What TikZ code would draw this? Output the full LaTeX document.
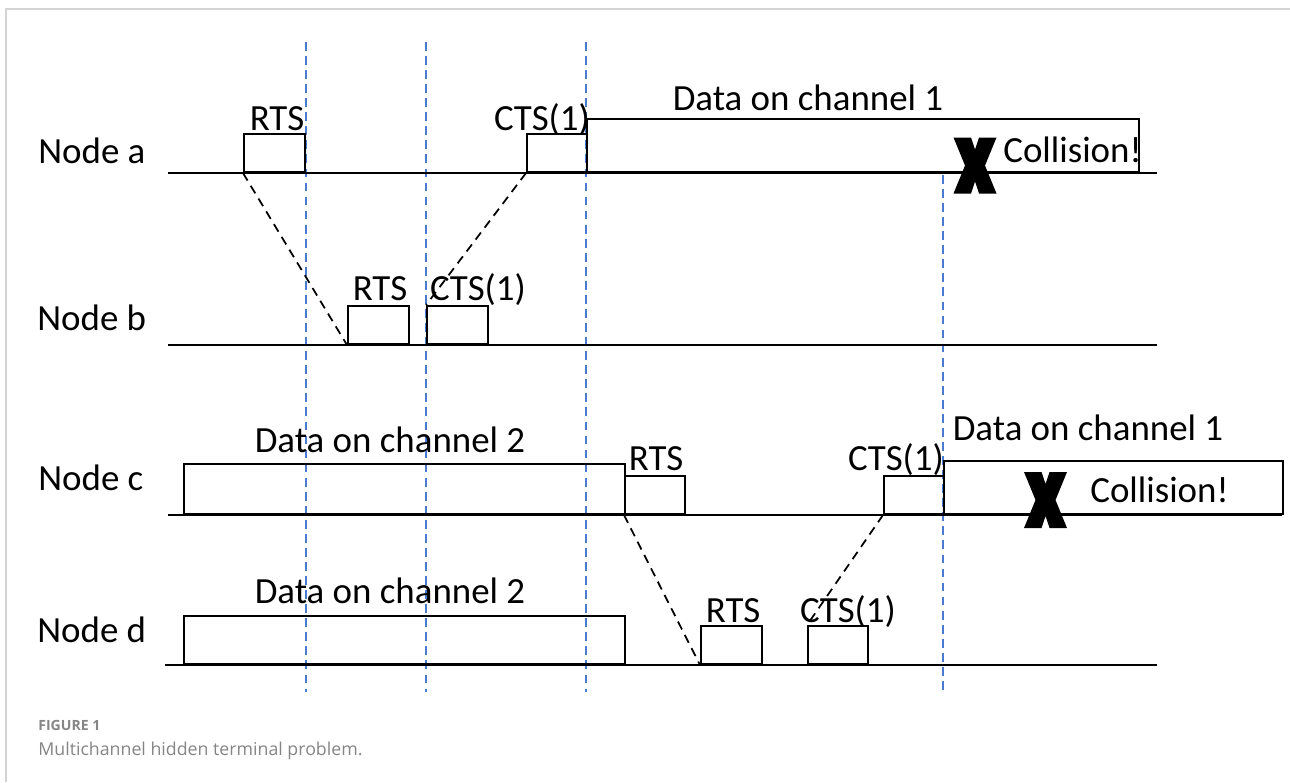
\documentclass[tikz,border=0pt]{standalone}
\usepackage{fontspec}
\setmainfont{Carlito}
\newfontfamily\capfont{Open Sans}
\usetikzlibrary{positioning}
\definecolor{slotblue}{HTML}{4A7BD0}
\definecolor{framegray}{HTML}{D4D4D4}
\definecolor{capgray}{HTML}{858585}
\tikzset{pkt/.style={draw, line width=1.1pt, anchor=south west, inner sep=0pt, minimum height=0.76cm, minimum width=1.22cm}}
\tikzset{lbl/.style={font=\fontsize{21}{25}\selectfont, inner sep=0pt, anchor=base}}
\tikzset{tl/.style={line width=1.1pt}}
\tikzset{prop/.style={line width=1pt, dash pattern=on 5pt off 3.5pt}}
\tikzset{slot/.style={slotblue, line width=0.8pt, dash pattern=on 5pt off 3pt}}
% heavy cross as a filled outline, in pixel units round the node centre
\tikzset{xmark/.style={inner sep=0pt, minimum width=0.86cm, minimum height=1.12cm,
    path picture={\fill[shift={(path picture bounding box.center)}]
        (-21.5,-28) -- (-4,-28) -- (0,-16) -- (4,-28) -- (21.5,-28) -- (10,0)
        -- (21.5,28) -- (4,28) -- (0,16) -- (-4,28) -- (-21.5,28) -- (-10,0) -- cycle;}}}
\tikzset{captext/.style={font=\capfont\fontsize{10.1}{12}\selectfont, text=capgray, inner sep=0pt, anchor=base west}}

\begin{document}
\begin{tikzpicture}[x=0.02cm, y=-0.02cm]
    \useasboundingbox (0,0) rectangle (1290,782);
    \draw[framegray, line width=0.8pt] (6,782) -- (6,9) -- (1290,9);

    % slot boundaries
    \foreach \x in {306,426,586}
        \draw[slot] (\x,42) -- (\x,692);
    \draw[slot] (943,175) -- (943,692);

    % time lines
    \draw[tl] (168,173) -- (1157,173);
    \draw[tl] (168,345) -- (1157,345);
    \draw[tl] (168,515) -- (1282,515);
    \draw[tl] (165,665) -- (1157,665);

    \node[lbl, anchor=base west] (na) at (38,163) {Node a};
    \node[lbl, anchor=base west] (nb) at (37,330) {Node b};
    \node[lbl, anchor=base west] (nc) at (38,490) {Node c};
    \node[lbl, anchor=base west] (nd) at (37,642) {Node d};

    % node a
    \node[pkt] (rtsa) at (243,173) {};
    \node[pkt, minimum width=1.2cm] (ctsa) at (526,173) {};
    \node[pkt, minimum width=11.04cm, minimum height=1.06cm] (dataa) at (586,173) {};
    \node[lbl] (trtsa) at (277,130) {RTS};
    \node[lbl] (tctsa) at (542,130) {CTS(1)};
    \node[lbl] (tdataa) at (808,110) {Data on channel 1};
    \node[xmark] (xa) at (975,165.5) {};
    \node[lbl, anchor=base west] (cola) at (1003,162) {Collision!};

    % node b
    \node[pkt] (rtsb) at (347,345) {};
    \node[pkt] (ctsb) at (426,345) {};
    \node[lbl] (trtsb) at (380,300) {RTS};
    \node[lbl] (tctsb) at (478,300) {CTS(1)};

    % node c
    \node[pkt, minimum width=8.82cm, minimum height=1cm] (datac) at (183,515) {};
    \node[pkt, minimum width=1.2cm] (rtsc) at (624,515) {};
    \node[pkt, minimum width=1.2cm] (ctsc) at (883,515) {};
    \node[pkt, minimum width=6.78cm, minimum height=1.06cm] (datac1) at (943,515) {};
    \node[lbl] (tdatac) at (390,452) {Data on channel 2};
    \node[lbl] (trtsc) at (656,470) {RTS};
    \node[lbl] (tctsc) at (896,470) {CTS(1)};
    \node[lbl] (tdatac1) at (1088,440) {Data on channel 1};
    \node[xmark] (xc) at (1045.5,500) {};
    \node[lbl, anchor=base west] (colc) at (1090,502) {Collision!};

    % node d
    \node[pkt, minimum width=8.82cm, minimum height=0.96cm] (datad) at (183,665) {};
    \node[pkt] (rtsd) at (700,665) {};
    \node[pkt, minimum width=1.2cm] (ctsd) at (807,665) {};
    \node[lbl] (tdatad) at (390,603) {Data on channel 2};
    \node[lbl] (trtsd) at (733,622) {RTS};
    \node[lbl] (tctsd) at (848,622) {CTS(1)};

    % propagation of RTS and CTS
    \draw[prop] (rtsa.south west) -- (rtsb.south west);
    \draw[prop] (ctsa.south west) -- (ctsb.north west);
    \draw[prop] (rtsc.south west) -- (rtsd.south west);
    \draw[prop] (ctsc.south west) -- (ctsd.north west);

    \node[captext, font=\capfont\bfseries\fontsize{8}{10}\selectfont] (fig) at (38,730) {FIGURE 1};
    \node[captext] (capt) at (38,755) {Multichannel hidden terminal problem.};
\end{tikzpicture}
\end{document}
